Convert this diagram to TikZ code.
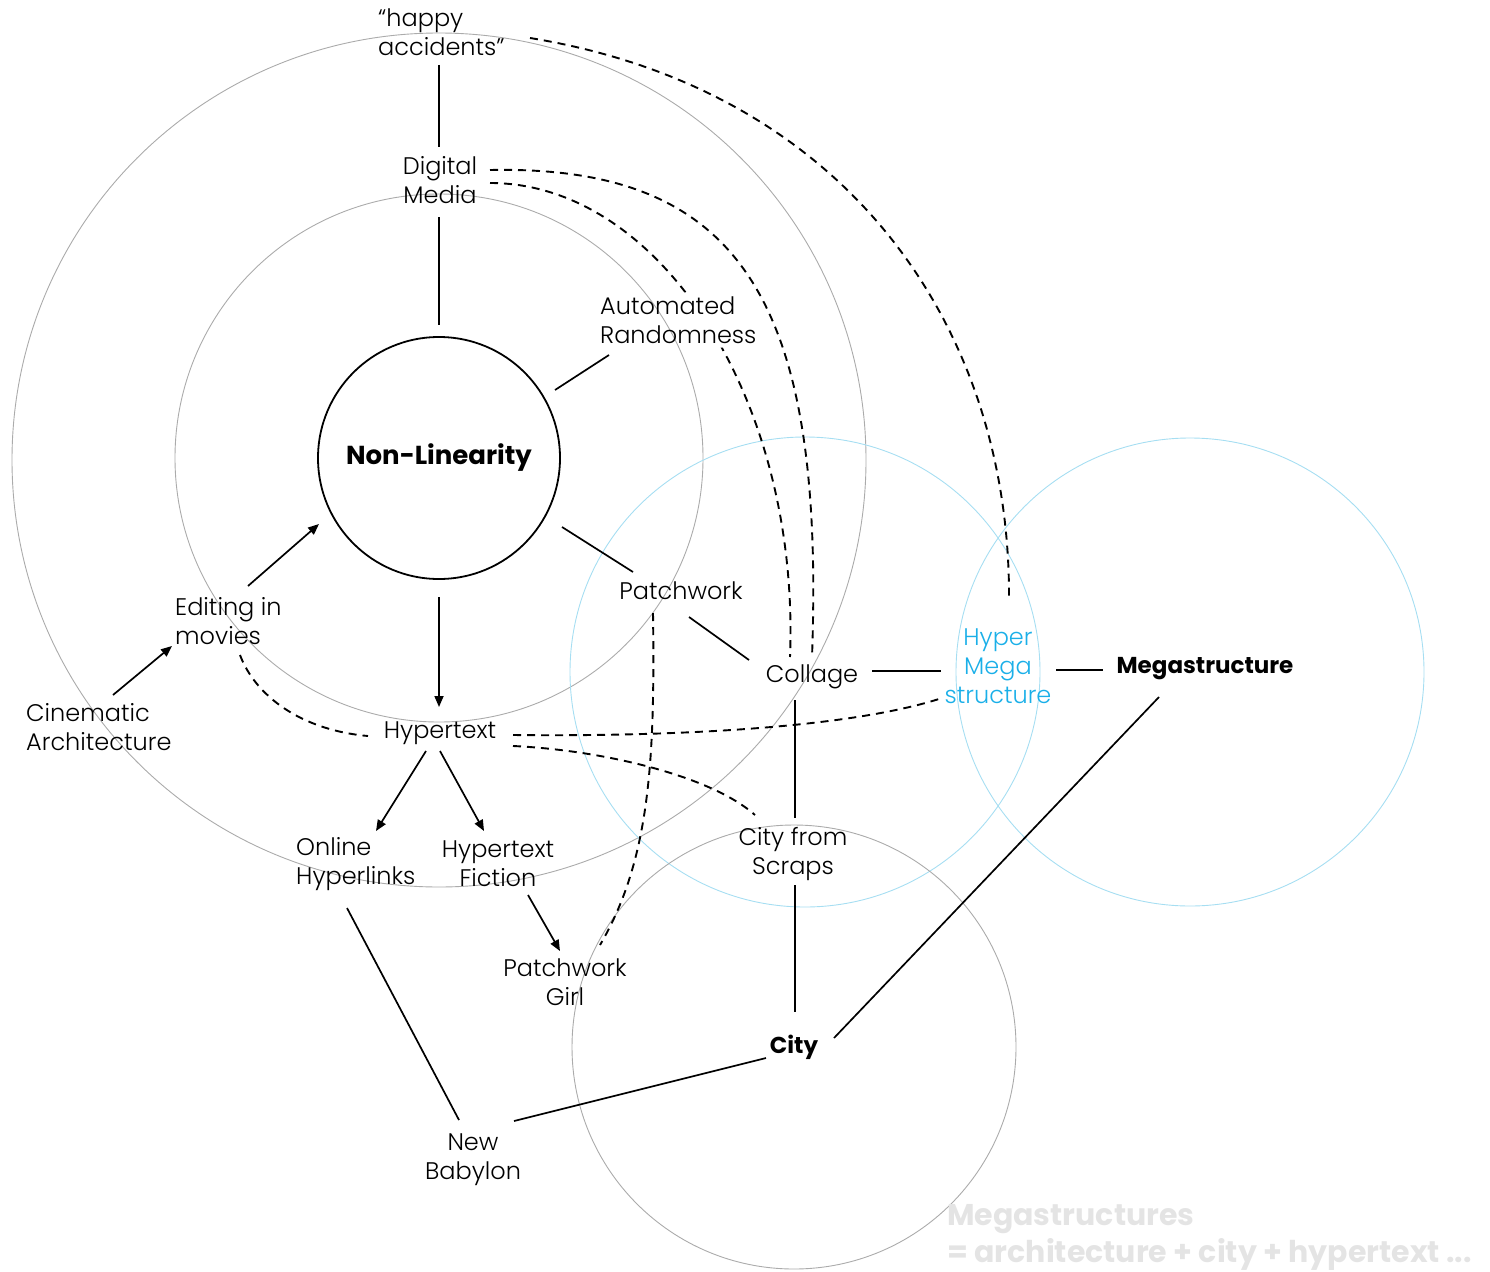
\documentclass[tikz,border=0pt]{standalone}
\usepackage{fontspec}
\setmainfont{Poppins}[UprightFont=* Light, BoldFont=* Bold]
\usetikzlibrary{arrows.meta}

\definecolor{ringgrey}{HTML}{ABABAB}
\definecolor{ringcyan}{HTML}{A6DEF2}
\definecolor{hypercyan}{HTML}{1AAFE8}
\definecolor{notegrey}{HTML}{E4E4E4}

\tikzset{
  ring/.style={draw=ringgrey, line width=0.9pt},
  cring/.style={draw=ringcyan, line width=0.9pt},
  term/.style={font=\fontsize{24}{29}\selectfont, align=center, inner sep=0pt},
  terml/.style={term, align=left, anchor=west},
  key/.style={font=\fontsize{23}{29}\selectfont\bfseries, inner sep=0pt},
  link/.style={line width=1.7pt},
  arrow/.style={link, -{Triangle[length=11pt,width=9pt]}},
  weak/.style={line width=1.9pt, dash pattern=on 8pt off 6pt},
}

\begin{document}
\begin{tikzpicture}[x=1pt,y=-1pt]
\useasboundingbox (0,0) rectangle (1490,1271);

% concentric rings round the centre idea
\draw[ring] (439,460) circle[radius=427pt];
\draw[ring] (439,458) circle[radius=264pt];
% overlapping rings on the right and below
\draw[cring] (805,672) circle[radius=235pt];
\draw[cring] (1190,672) circle[radius=234pt];
\draw[ring] (794,1047) circle[radius=222pt];

% terms
\node[terml] (ha) at (378,32) {“happy\\accidents”};
\node[term] (dm) at (440,180) {Digital\\Media};
\node[terml] (ar) at (600,320) {Automated\\Randomness};
\node[draw, circle, line width=1.8pt, minimum size=242pt, inner sep=0pt,
      font=\fontsize{26}{30}\selectfont\bfseries] (nl) at (439,458) {Non-Linearity};
\node[terml] (em) at (175,621) {Editing in\\movies};
\node[terml] (ca) at (26,727) {Cinematic\\Architecture};
\node[term] (ht) at (440,733) {Hypertext};
\node[term] (pw) at (681,591) {Patchwork};
\node[term] (co) at (812,677) {Collage};
\node[term, text=hypercyan] (hm) at (998,666) {Hyper\\Mega\\structure};
\node[key] (ms) at (1205,669) {Megastructure};
\node[terml] (oh) at (296,864) {Online\\Hyperlinks};
\node[term] (hf) at (498,864) {Hypertext\\Fiction};
\node[term] (cs) at (793,854) {City from\\Scraps};
\node[term] (pg) at (565,982) {Patchwork\\Girl};
\node[key] (ci) at (794,1047) {City};
\node[term] (nb) at (473,1160) {New\\Babylon};
\node[anchor=west, align=left, inner sep=0pt, text=notegrey,
      font=\fontsize{30}{37}\selectfont\bfseries] (nt) at (947,1237)
      {Megastructures\\= architecture + city + hypertext ...};

% solid links
\draw[link] ([shift={(61,33)}]ha.west) -- ([shift={(-1,-33)}]dm.center);
\draw[link] ([shift={(-1,37)}]dm.center) -- ([shift={(0,-133)}]nl.center);
\draw[link] ([shift={(116,-68)}]nl.center) -- ([shift={(9,35)}]ar.west);
\draw[link] ([shift={(123,69)}]nl.center) -- ([shift={(-48,-19)}]pw.center);
\draw[link] ([shift={(8,26)}]pw.center) -- ([shift={(-63,-17)}]co.center);
\draw[link] ([shift={(60,-6)}]co.center) -- ([shift={(-57,5)}]hm.center);
\draw[link] ([shift={(58,4)}]hm.center) -- ([shift={(-102,1)}]ms.center);
\draw[link] ([shift={(-17,23)}]co.center) -- ([shift={(2,-36)}]cs.center);
\draw[link] ([shift={(2,31)}]cs.center) -- ([shift={(1,-35)}]ci.center);
\draw[link] ([shift={(-46,28)}]ms.center) -- ([shift={(40,-9)}]ci.center);
\draw[link] ([shift={(-28,11)}]ci.center) -- ([shift={(41,-39)}]nb.center);
\draw[link] ([shift={(51,44)}]oh.west) -- ([shift={(-14,-40)}]nb.center);

% arrows
\draw[arrow] ([shift={(0,139)}]nl.center) -- ([shift={(-1,-26)}]ht.center);
\draw[arrow] ([shift={(73,-35)}]em.west) -- ([shift={(-120,66)}]nl.center);
\draw[arrow] ([shift={(87,-32)}]ca.west) -- ([shift={(-3,25)}]em.west);
\draw[arrow] ([shift={(-14,18)}]ht.center) -- ([shift={(80,-33)}]oh.west);
\draw[arrow] ([shift={(0,18)}]ht.center) -- ([shift={(-14,-33)}]hf.center);
\draw[arrow] ([shift={(30,31)}]hf.center) -- ([shift={(-5,-31)}]pg.center);

% dashed associations
\draw[weak] ([shift={(152,6)}]ha.west) .. controls (850,90) and (1010,330) .. ([shift={(11,-68)}]hm.center);
\draw[weak] ([shift={(50,-10)}]dm.center) .. controls (740,165) and (825,300) .. ([shift={(0,-20)}]co.center);
\begin{scope}[even odd rule]
  \clip (0,0) rectangle (1490,1271)
    ([shift={(-4,-4)}]ar.north west) rectangle ([shift={(4,4)}]ar.south east);
  \draw[weak] ([shift={(50,3)}]dm.center) .. controls (660,183) and (800,400) .. ([shift={(-22,-20)}]co.center);
\end{scope}
\draw[weak] ([shift={(65,34)}]em.west) .. controls (255,695) and (300,730) .. ([shift={(-72,3)}]ht.center);
\draw[weak] ([shift={(73,2)}]ht.center) .. controls (700,737) and (860,725) .. ([shift={(-56,32)}]hm.center);
\draw[weak] ([shift={(73,13)}]ht.center) .. controls (600,750) and (710,775) .. ([shift={(-38,-39)}]cs.center);
\draw[weak] ([shift={(-28,22)}]pw.center) .. controls (655,760) and (650,860) .. ([shift={(35,-37)}]pg.center);

\end{tikzpicture}
\end{document}
